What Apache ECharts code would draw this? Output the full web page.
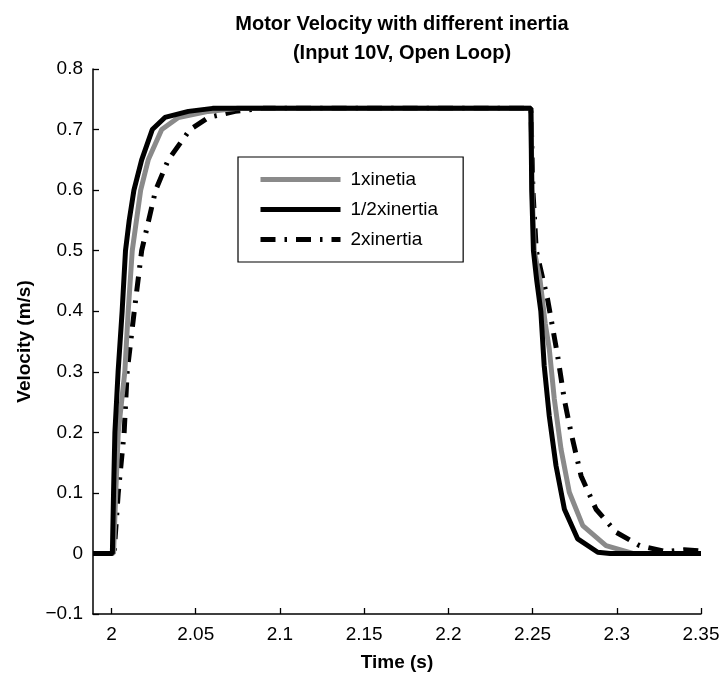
<!DOCTYPE html>
<html><head><meta charset="utf-8">
<script src="https://cdn.jsdelivr.net/npm/echarts@6/dist/echarts.min.js"></script>
<style>html,body{margin:0;padding:0;background:#fff}#c{width:724px;height:678px}</style>
</head><body><div id="c"></div>
<script>
const seriesNames = ['1xinetia', '1/2xinertia', '2xinertia'];
const xTicks = [2, 2.05, 2.1, 2.15, 2.2, 2.25, 2.3, 2.35];
const yTicks = [-0.1, 0, 0.1, 0.2, 0.3, 0.4, 0.5, 0.6, 0.7, 0.8];

// [time (s), velocity (m/s)]
const oneInertia = [
  [1.989, 0], [2.0012, 0], [2.0025, 0.1], [2.004, 0.2], [2.0079, 0.3], [2.0099, 0.4],
  [2.0123, 0.5], [2.0173, 0.6], [2.0218, 0.65], [2.0298, 0.7], [2.0397, 0.72], [2.0575, 0.73],
  [2.075, 0.735], [2.249, 0.735], [2.2497, 0.6], [2.251, 0.5], [2.2545, 0.45], [2.2575, 0.38],
  [2.2599, 0.338], [2.2629, 0.255], [2.2669, 0.172], [2.2718, 0.101], [2.2798, 0.046],
  [2.2936, 0.013], [2.3095, 0], [2.35, 0]
];
const halfInertia = [
  [1.989, 0], [2.0005, 0], [2.0012, 0.1], [2.002, 0.2], [2.0039, 0.3], [2.0063, 0.4],
  [2.0083, 0.5], [2.0105, 0.55], [2.0133, 0.6], [2.0179, 0.65], [2.0242, 0.7], [2.0317, 0.72],
  [2.0456, 0.73], [2.06, 0.735], [2.249, 0.735], [2.2495, 0.6], [2.2505, 0.5], [2.2525, 0.45],
  [2.2549, 0.40], [2.2569, 0.31], [2.2599, 0.227], [2.2639, 0.145], [2.2689, 0.073],
  [2.2768, 0.024], [2.2887, 0.002], [2.296, 0], [2.35, 0]
];
const twoInertia = [
  [1.989, 0], [2.0015, 0], [2.004, 0.1], [2.0075, 0.2], [2.0093, 0.3], [2.0135, 0.4],
  [2.0179, 0.5], [2.0262, 0.6], [2.0337, 0.65], [2.0466, 0.7], [2.0575, 0.72], [2.0734, 0.73],
  [2.09, 0.735], [2.249, 0.735], [2.2502, 0.6], [2.2522, 0.5], [2.2589, 0.42], [2.2649, 0.326],
  [2.2688, 0.255], [2.2728, 0.2], [2.2788, 0.128], [2.2877, 0.073], [2.2996, 0.035],
  [2.3135, 0.013], [2.3294, 0.003], [2.34, 0.006], [2.35, 0.004]
];

const chart = echarts.init(document.getElementById('c'), null, {renderer: 'canvas'});
const font = 'Liberation Sans, Arial, sans-serif';
const fmt = v => (Math.abs(v) < 1e-9 ? '0' : (v < 0 ? '\u2212' : '') + String(+Math.abs(v).toFixed(2)));

chart.setOption({
  animation: false,
  backgroundColor: '#fff',
  title: {
    text: 'Motor Velocity with different inertia\n(Input 10V, Open Loop)',
    left: 397, top: 5, textAlign: 'center',
    textStyle: {fontFamily: font, fontSize: 20, fontWeight: 'bold', color: '#000', lineHeight: 29}
  },
  grid: {left: 93, right: 23, top: 69, bottom: 64, containLabel: false},
  legend: {
    data: [seriesNames[0], seriesNames[1], seriesNames[2]],
    orient: 'vertical', left: 238, top: 157,
    padding: [13, 25, 13, 20],
    itemWidth: 80, itemHeight: 14, itemGap: 11,
    borderColor: '#000', borderWidth: 1.2, borderRadius: 0,
    backgroundColor: '#fff',
    itemStyle: {opacity: 0},
    lineStyle: {width: 5, type: 'inherit', color: 'inherit'},
    textStyle: {fontFamily: font, fontSize: 19, color: '#000', padding: [0, 0, 0, 5]}
  },
  xAxis: {
    type: 'value', min: 1.989, max: 2.35,
    name: 'Time (s)', nameLocation: 'middle', nameGap: 39,
    nameTextStyle: {fontFamily: font, fontSize: 19, fontWeight: 'bold', color: '#000'},
    axisLine: {onZero: false, lineStyle: {color: '#000', width: 1.5}},
    axisTick: {inside: true, length: 6, lineStyle: {color: '#000', width: 1.3}, customValues: xTicks},
    axisLabel: {customValues: xTicks, formatter: fmt, fontFamily: font, fontSize: 19, color: '#000', margin: 11},
    splitLine: {show: false}
  },
  yAxis: {
    type: 'value', min: -0.1, max: 0.8, interval: 0.1,
    name: 'Velocity (m/s)', nameLocation: 'middle', nameGap: 58,
    nameTextStyle: {fontFamily: font, fontSize: 19, fontWeight: 'bold', color: '#000'},
    axisLine: {show: true, onZero: false, lineStyle: {color: '#000', width: 1.5}},
    axisTick: {show: true, inside: true, length: 6, lineStyle: {color: '#000', width: 1.3}},
    axisLabel: {formatter: fmt, fontFamily: font, fontSize: 19, color: '#000', margin: 10},
    splitLine: {show: false}
  },
  series: [
    {name: seriesNames[2], type: 'line', data: twoInertia, showSymbol: false, symbol: 'none', z: 2,
     lineStyle: {color: '#000', width: 5, type: [15, 9, 2.5, 9], cap: 'butt'}, itemStyle: {color: '#000'}},
    {name: seriesNames[0], type: 'line', data: oneInertia, showSymbol: false, symbol: 'none', z: 3,
     lineStyle: {color: '#8a8a8a', width: 5}, itemStyle: {color: '#8a8a8a'}},
    {name: seriesNames[1], type: 'line', data: halfInertia, showSymbol: false, symbol: 'none', z: 4,
     lineStyle: {color: '#000', width: 5}, itemStyle: {color: '#000'}}
  ]
});
</script></body></html>
